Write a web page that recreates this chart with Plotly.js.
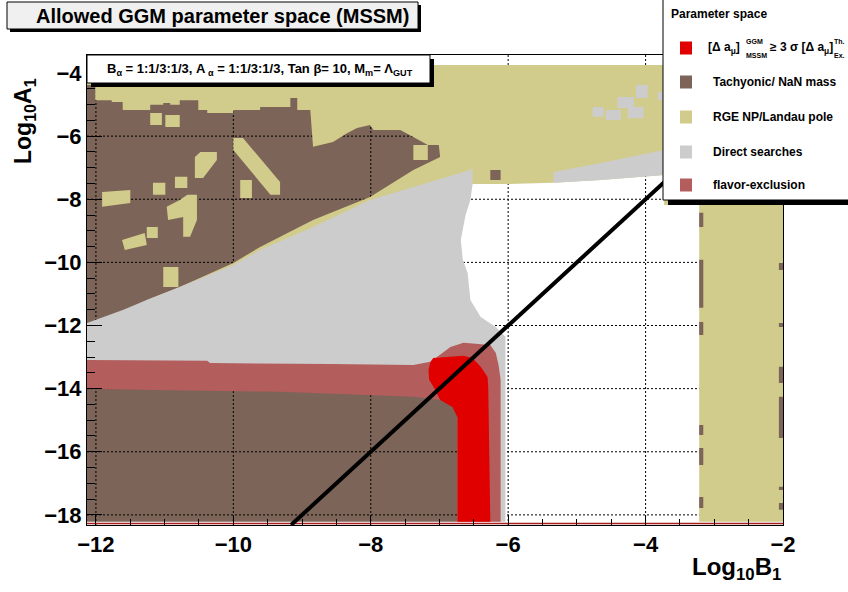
<!DOCTYPE html>
<html><head><meta charset="utf-8">
<script src="https://cdn.plot.ly/plotly-3.0.1.min.js"></script>
<style>html,body{margin:0;padding:0;background:#fff}#chart{width:848px;height:592px}</style>
</head><body><div id="chart"></div>
<script>
// ---------------- data (log10 B1 on x, log10 A1 on y) ----------------
const xRange = [-12.13, -2.0];
const yRange = [-18.32, -3.43];
const gridB = [-12, -10, -8, -6, -4];
const gridA = [-18, -16, -14, -12, -10, -8, -6, -4];

const legendLabels = ["[Δ a_μ]^GGM_MSSM ≥ 3 σ [Δ a_μ]^Th._Ex.", "Tachyonic/ NaN mass", "RGE NP/Landau pole", "Direct searches", "flavor-exclusion"];
const legendColors = ["#e00000", "#7c6458", "#d2cc8c", "#cccccc", "#b35d5d"];

// Tachyonic / NaN mass (brown) base region
const tachyonicB = [-12.13, -6.74, -6.74, -12.13];
const tachyonicA = [-3.75, -3.75, -18.22, -18.22];
// small tachyonic specks (rectangles)
const speckB0 = [-6.26, -3.22, -3.22, -3.22, -3.22, -3.22, -3.22, -2.06, -2.06, -2.06, -2.06, -2.06, -2.06];
const speckB1 = [-6.11, -3.16, -3.16, -3.16, -3.16, -3.16, -3.16, -2.0, -2.0, -2.0, -2.0, -2.0, -2.0];
const speckA0 = [-7.07, -8.43, -9.92, -11.89, -15.15, -15.88, -17.43, -10.02, -11.92, -13.31, -14.26, -17.11, -17.62];
const speckA1 = [-7.39, -8.88, -11.44, -12.30, -15.47, -16.42, -17.78, -10.24, -12.05, -13.82, -15.56, -17.21, -17.84];

// RGE NP / Landau pole (beige) band
const rgeB = [-12.13,-2.0,-2.0,-3.22,-3.22,-3.73,-3.73,-4.65,-5.34,-6.11,-6.52,-6.66,-12.13,-12.13,-11.61,-11.26,-10.78,-10.00,-9.61,-8.84,-8.01,-7.38,-6.99,-7.01,-7.17,-7.38,-7.57,-7.96,-8.01,-8.20,-8.34,-8.55,-8.84,-8.88,-9.07,-9.07,-9.17,-9.17,-9.61,-9.61,-10.00,-10.00,-10.38,-10.38,-10.51,-10.51,-10.78,-10.78,-10.92,-10.92,-11.02,-11.02,-11.21,-11.21,-11.61,-11.61,-11.77,-11.77,-12.01,-12.01,-12.13];
const rgeA = [-3.75,-3.75,-18.22,-18.22,-8.18,-8.18,-7.23,-7.39,-7.48,-7.52,-7.52,-8.02,-12.14,-12.05,-11.57,-11.19,-10.78,-10.02,-9.51,-8.66,-7.93,-7.07,-6.66,-6.28,-6.28,-6.03,-5.81,-5.81,-5.65,-5.74,-5.90,-6.19,-6.34,-5.17,-5.17,-4.79,-4.79,-5.08,-5.08,-5.17,-5.17,-5.27,-5.27,-5.17,-5.17,-4.86,-4.86,-5.01,-5.01,-4.95,-4.95,-5.01,-5.01,-5.17,-5.17,-4.92,-4.92,-4.86,-4.86,-4.38,-4.38];
// RGE islands inside the tachyonic region
const rgeIslandB = [
 -11.21,-11.04,-11.04,-11.21, null,
 -10.99,-10.78,-10.78,-10.99, null,
 -10.56,-10.48,-10.24,-10.24,-10.44,-10.56, null,
 -10.00,-9.86,-9.32,-9.32,-9.46,-10.00, null,
 -9.90,-9.73,-9.73,-9.90, null,
 -11.17,-10.99,-10.99,-11.17, null,
 -10.85,-10.67,-10.67,-10.85, null,
 -11.91,-11.50,-11.50,-11.91, null,
 -10.67,-10.53,-10.53,-10.63,-10.73,-10.73,-10.95,-10.97,-10.78, null,
 -11.26,-11.10,-11.10,-11.26, null,
 -11.62,-11.29,-11.26,-11.58, null,
 -11.02,-10.80,-10.80,-11.02, null,
 -7.38,-7.17,-7.17,-7.38];
const rgeIslandA = [
 -5.27,-5.27,-5.65,-5.65, null,
 -5.33,-5.33,-5.71,-5.71, null,
 -6.66,-6.50,-6.50,-6.76,-7.33,-7.33, null,
 -6.06,-6.06,-7.45,-7.86,-7.86,-6.44, null,
 -7.39,-7.39,-7.96,-7.96, null,
 -7.48,-7.48,-7.86,-7.86, null,
 -7.29,-7.29,-7.64,-7.64, null,
 -7.77,-7.71,-8.12,-8.24, null,
 -7.86,-7.86,-8.66,-9.19,-9.19,-8.56,-8.66,-8.24,-8.02, null,
 -8.88,-8.88,-9.23,-9.23, null,
 -9.29,-9.07,-9.45,-9.61, null,
 -10.15,-10.15,-10.78,-10.78, null,
 -6.28,-6.28,-6.76,-6.76];

// Direct searches (grey)
const directB = [-12.13,-11.61,-11.26,-10.78,-10.00,-9.61,-8.84,-8.01,-7.38,-6.55,-6.52,-6.52,-6.55,-6.62,-6.69,-6.66,-6.59,-6.55,-6.40,-6.18,-6.04,-6.04,-6.52,-6.52,-12.13, null, -5.34,-5.34,-4.65,-3.73,-3.73,-4.65];
const directA = [-11.92,-11.51,-11.19,-10.78,-10.08,-9.61,-8.88,-8.02,-7.61,-7.07,-7.01,-7.55,-8.02,-8.50,-9.29,-9.92,-10.34,-11.19,-11.73,-12.05,-12.36,-18.22,-18.22,-13.57,-13.57, null, -7.48,-7.14,-6.85,-6.44,-7.23,-7.39];
const directBlockB0 = [-4.77, -4.58, -4.41, -4.26, -4.14, -3.82];
const directBlockB1 = [-4.61, -4.36, -4.17, -4.03, -3.97, -3.75];
const directBlockA0 = [-5.08, -5.17, -4.76, -5.08, -4.38, -4.60];
const directBlockA1 = [-5.39, -5.49, -5.11, -5.43, -4.79, -4.86];

// flavor exclusion
const flavorB = [-12.13,-10.38,-10.34,-8.59,-7.38,-7.13,-6.84,-6.65,-6.26,-6.18,-6.14,-6.11,-6.11,-6.74,-6.74,-6.99,-7.38,-9.32,-12.13];
const flavorA = [-13.09,-13.12,-13.19,-13.22,-13.25,-13.15,-12.68,-12.55,-12.62,-12.87,-13.25,-13.72,-18.22,-18.22,-14.52,-14.36,-14.26,-14.10,-14.01];

// (g-2) region, 3 sigma
const gm2B = [-7.13,-7.09,-6.65,-6.52,-6.40,-6.30,-6.29,-6.26,-6.74,-6.74,-6.81,-6.99,-7.06,-7.15,-7.16];
const gm2A = [-13.15,-13.03,-12.96,-13.03,-13.31,-13.63,-13.95,-18.22,-18.22,-14.90,-14.58,-14.36,-14.04,-13.72,-13.41];

// black line and bottom edge line
const lineB = [-9.16, -2.0];
const lineA = [-18.32, -4.0];
const edgeB = [-12.13, -2.0];
const edgeA = [-18.27, -18.27];

// ---------------- helpers ----------------
function rects(x0, x1, y0, y1) {
  const X = [], Y = [];
  for (let i = 0; i < x0.length; i++) {
    X.push(x0[i], x1[i], x1[i], x0[i], null);
    Y.push(y0[i], y0[i], y1[i], y1[i], null);
  }
  return {X, Y};
}
function gridLines() {
  const X = [], Y = [];
  gridB.forEach(g => { X.push(g, g, null); Y.push(yRange[0], yRange[1], null); });
  gridA.forEach(g => { X.push(xRange[0], xRange[1], null); Y.push(g, g, null); });
  return {X, Y};
}
function area(x, y, color, name) {
  return {type: 'scatter', x: x, y: y, mode: 'none', fill: 'toself', fillcolor: color,
          name: name, hoverinfo: 'skip', showlegend: false};
}

const specks = rects(speckB0, speckB1, speckA0, speckA1);
const blocks = rects(directBlockB0, directBlockB1, directBlockA0, directBlockA1);
const grid = gridLines();

const traces = [
  area(tachyonicB, tachyonicA, legendColors[1], legendLabels[1]),
  {type: 'scatter', x: grid.X, y: grid.Y, mode: 'lines', line: {color: 'black', width: 1, dash: '2px,2px'}, hoverinfo: 'skip', showlegend: false},
  area(rgeB, rgeA, legendColors[2], legendLabels[2]),
  area(specks.X, specks.Y, legendColors[1], legendLabels[1]),
  area(directB.concat([null], blocks.X), directA.concat([null], blocks.Y), legendColors[3], legendLabels[3]),
  area(flavorB, flavorA, legendColors[4], legendLabels[4]),
  area(gm2B, gm2A, legendColors[0], legendLabels[0]),
  area(rgeIslandB, rgeIslandA, legendColors[2], legendLabels[2]),
  {type: 'scatter', x: edgeB, y: edgeA, mode: 'lines', line: {color: '#a81e1e', width: 1.5}, hoverinfo: 'skip', showlegend: false},
  {type: 'scatter', x: lineB, y: lineA, mode: 'lines', line: {color: 'black', width: 4}, hoverinfo: 'skip', showlegend: false}
];

// ---------------- layout ----------------
const L = 87, R = 783, T = 55, Bm = 525;
const PX = v => (v - L) / (R - L);
const PY = v => (Bm - v) / (Bm - T);
const FONT = 'Liberation Sans, Arial, Helvetica, sans-serif';

function box(x0, y0, x1, y1, fill, shadow) {
  const s = [];
  if (shadow) s.push({type: 'rect', xref: 'paper', yref: 'paper', layer: 'above',
    x0: PX(x0 + shadow), x1: PX(x1 + shadow), y0: PY(y1 + shadow), y1: PY(y0 + shadow),
    fillcolor: 'black', line: {width: 0}});
  s.push({type: 'rect', xref: 'paper', yref: 'paper', layer: 'above',
    x0: PX(x0), x1: PX(x1), y0: PY(y1), y1: PY(y0), fillcolor: fill, line: {color: 'black', width: 1}});
  return s;
}
function txt(x, y, text, size, xanchor, extra) {
  return Object.assign({xref: 'paper', yref: 'paper', x: PX(x), y: PY(y), text: text, showarrow: false,
    xanchor: xanchor || 'left', yanchor: 'middle', font: {family: FONT, size: size, color: 'black', weight: 'bold'}}, extra || {});
}

const legendY = [48, 82, 117, 152, 185];
let shapes = [].concat(
  box(7, 2, 418, 29, '#f0f0f0', 3),
  box(87, 55, 430, 83, 'white', 4),
  box(663, -5, 852, 200, 'white', 5)
);
legendY.forEach((c, i) => {
  shapes.push({type: 'rect', xref: 'paper', yref: 'paper', layer: 'above',
    x0: PX(680), x1: PX(692), y0: PY(c + 6.5), y1: PY(c - 6.5), fillcolor: legendColors[i], line: {width: 0}});
});

const annotations = [
  txt(34, 16, '<b>Allowed GGM parameter space (MSSM)</b>', 20),
  txt(260, 69, 'B<sub>α</sub> = 1:1/3:1/3, A<sub> α</sub> = 1:1/3:1/3, Tan β= 10, M<sub>m</sub>= Λ<sub>GUT</sub>', 13, 'center'),
  txt(25, 121, 'Log<sub>10</sub>A<sub>1</sub>', 23, 'center', {textangle: -90}),
  txt(783, 568, 'Log<sub>10</sub>B<sub>1</sub>', 24, 'right'),
  txt(669, 14, 'Parameter space', 12),
  // first legend entry built from pieces
  txt(706, legendY[0], '[Δ a<sub>μ</sub>]', 12),
  txt(744, legendY[0] - 6, 'GGM', 7),
  txt(744, legendY[0] + 7, 'MSSM', 7),
  txt(768, legendY[0], '≥ 3 σ [Δ a<sub>μ</sub>]', 12),
  txt(832, legendY[0] - 6, 'Th.', 7),
  txt(832, legendY[0] + 7, 'Ex.', 7)
];
for (let i = 1; i < legendLabels.length; i++) annotations.push(txt(711, legendY[i], legendLabels[i], 12));

const axisCommon = {
  showline: true, mirror: true, linecolor: 'black', linewidth: 1,
  showgrid: false, zeroline: false, ticks: 'inside', tickcolor: 'black', tickwidth: 1,
  layer: 'above traces', fixedrange: true,
  tickfont: {family: FONT, size: 22, color: 'black', weight: 'bold'}
};
const layout = {
  width: 848, height: 592,
  margin: {l: L, r: 848 - R, t: T, b: 592 - Bm, pad: 0, autoexpand: false},
  paper_bgcolor: 'white', plot_bgcolor: 'white', showlegend: false,
  font: {family: FONT, color: 'black'},
  xaxis: Object.assign({}, axisCommon, {range: xRange, tickmode: 'linear', tick0: -12, dtick: 2, ticklen: 10,
    minor: {dtick: 0.5, ticks: 'inside', ticklen: 6, tickcolor: 'black', showgrid: false}}),
  yaxis: Object.assign({}, axisCommon, {range: yRange, tickmode: 'linear', tick0: -18, dtick: 2, ticklen: 15,
    minor: {dtick: 0.5, ticks: 'inside', ticklen: 8, tickcolor: 'black', showgrid: false}}),
  shapes: shapes,
  annotations: annotations
};

Plotly.newPlot('chart', traces, layout, {staticPlot: true, displayModeBar: false});
</script></body></html>
